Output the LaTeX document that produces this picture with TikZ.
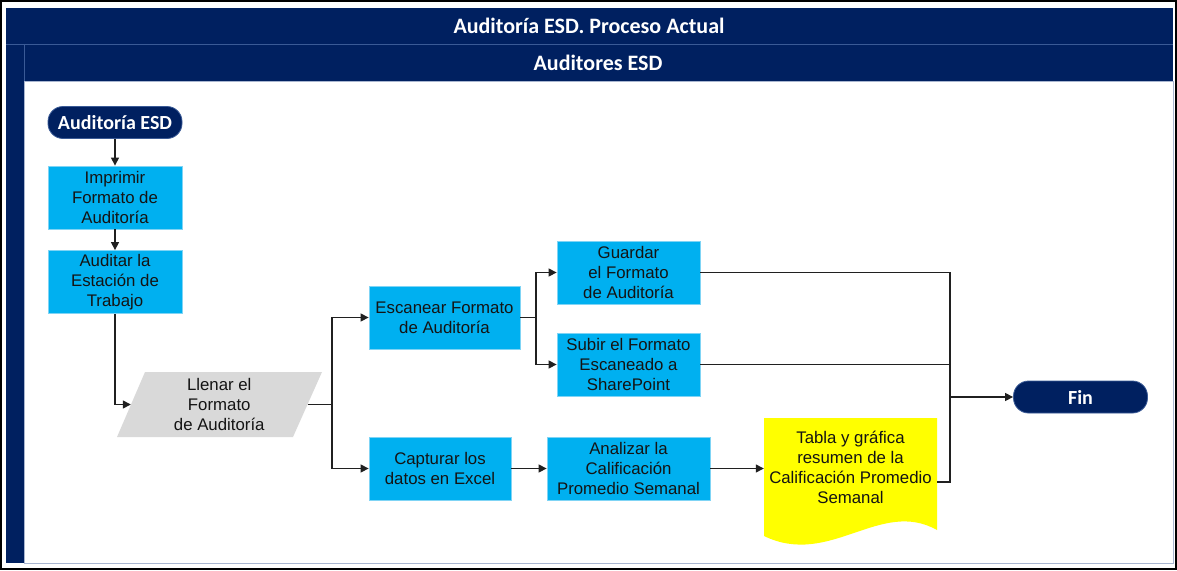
\documentclass[tikz,border=0pt]{standalone}
\usepackage{fontspec}
\setmainfont{Liberation Sans}
\newfontfamily\hdrfont{Carlito}
\usetikzlibrary{arrows.meta}
\definecolor{navy}{HTML}{002060}
\definecolor{navyedge}{HTML}{3A5A96}
\definecolor{procblue}{HTML}{00B0F0}
\definecolor{procedge}{HTML}{7FD4F5}
\definecolor{datagray}{HTML}{D9D9D9}
\definecolor{docyellow}{HTML}{FFFF00}
\definecolor{lanerule}{HTML}{A9B6D0}
\definecolor{inktext}{HTML}{141414}
\definecolor{wire}{HTML}{202020}
\begin{document}
\begin{tikzpicture}[x=1pt,y=-1pt,
  body/.style={font=\fontsize{16.8}{20}\selectfont, text=inktext, align=center},
  procbox/.style={body, rectangle, fill=procblue, draw=procedge, line width=0.8pt,
    inner sep=0pt, minimum width=#1, minimum height=63pt},
  pill/.style={rectangle, rounded corners=15pt, fill=navy, draw=navyedge, line width=0.8pt,
    text=white, font=\hdrfont\bfseries\fontsize{20}{22}\selectfont,
    minimum width=134pt, minimum height=32pt, inner sep=0pt},
  hdrtext/.style={text=white, font=\hdrfont\bfseries\fontsize{22}{24}\selectfont},
  link/.style={draw=wire, line width=1.3pt},
  conn/.style={link, -{Triangle[length=8pt,width=8pt]}}]
\useasboundingbox (0,0) rectangle (1177,570);

% page frame
\draw[black, line width=2pt] (1,1) rectangle (1176,569);

% pool and lane headers
\fill[navy] (6,8) rectangle (1173,44);
\fill[navy] (24,45) rectangle (1173,81);
\fill[navy] (6,44) rectangle (24,563);
\draw[navyedge, line width=0.8pt] (6,44.5) -- (1173,44.5);
\draw[lanerule, line width=1pt] (24,81) rectangle (1173,563);
\draw[navyedge, line width=0.8pt] (24,45) -- (24,81);
\node[hdrtext] (pooltitle) at (589,26) {Auditoría ESD. Proceso Actual};
\node[hdrtext] (lanetitle) at (598,63) {Auditores ESD};

% terminators
\node[pill] (start) at (115,122.5) {Auditoría ESD};
\node[pill] (fin) at (1080.5,397) {Fin};

% process steps
\node[procbox=134pt] (imprimir) at (115,197.5) {Imprimir\\Formato de\\Auditoría};
\node[procbox=134pt] (auditar) at (115,282) {Auditar la\\Estación de\\Trabajo};
\node[procbox=151pt] (escanear) at (444.5,317.5) {Escanear Formato\\de Auditoría};
\node[procbox=143pt] (guardar) at (628.5,272.5) {Guardar\\el Formato\\de Auditoría};
\node[procbox=143pt] (subir) at (628.5,364.5) {Subir el Formato\\Escaneado a\\SharePoint};
\node[procbox=142pt] (capturar) at (440,468.5) {Capturar los\\datos en Excel};
\node[procbox=163pt] (analizar) at (628.5,468.5) {Analizar la\\Calificación\\Promedio Semanal};

% data input (parallelogram)
\fill[datagray] (145,372) -- (322,372) -- (293,437) -- (117,437) -- cycle;
\node[body, rectangle, minimum width=176.5pt, minimum height=65pt, inner sep=0pt]
  (llenar) at (219.25,404.5) {Llenar el\\Formato\\de Auditoría};

% document output
\fill[docyellow] (764,418) -- (937,418) -- (937,530)
  .. controls (880,498) and (830,568) .. (764,536) -- cycle;
\node[rectangle, minimum width=173pt, minimum height=128pt, inner sep=0pt]
  (tabla) at (850.5,482) {};
\node[body] (tablatxt) at (850.5,467) {Tabla y gráfica\\resumen de la\\Calificación Promedio\\Semanal};

% junctions
\coordinate (j1) at (332,404.5);
\coordinate (j2) at (536,317.5);
\coordinate (j3) at (950,397);

% connectors
\draw[conn] (start) -- (imprimir);
\draw[conn] (imprimir) -- (auditar);
\draw[conn] (auditar.south) |- (llenar.west);
\draw[link] (llenar.east) -- (j1);
\draw[conn] (j1) |- (escanear.west);
\draw[conn] (j1) |- (capturar.west);
\draw[link] (escanear.east) -- (j2);
\draw[conn] (j2) |- (guardar.west);
\draw[conn] (j2) |- (subir.west);
\draw[conn] (capturar) -- (analizar);
\draw[conn] (analizar.east) -- (analizar.east -| tabla.west);
\draw[link] (guardar.east) -| (j3);
\draw[link] (subir.east) -| (j3);
\draw[link] (tabla.east) -| (j3);
\draw[conn] (j3) -- (fin.west);
\end{tikzpicture}
\end{document}
